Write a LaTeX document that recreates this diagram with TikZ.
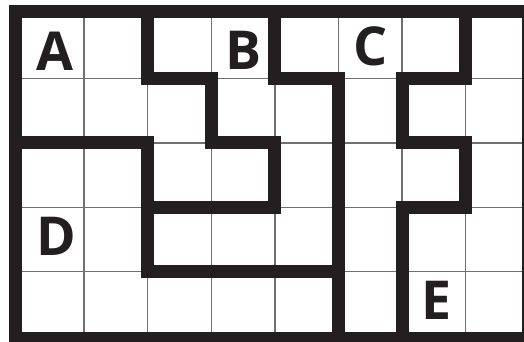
\documentclass[tikz,border=0pt]{standalone}
\usepackage{fontspec}
\setmainfont{Open Sans}
\usepackage{tikz}
\definecolor{ink}{HTML}{231F20}
\definecolor{gridgray}{HTML}{707070}

\begin{document}
\begin{tikzpicture}[
    x=1cm, y=-1.0126cm,
    cellline/.style={draw=gridgray, line width=0.022cm},
    wall/.style={draw=ink, line width=0.204cm, line cap=rect, line join=miter},
    letter/.style={font=\fontsize{24}{24}\selectfont\bfseries, text=ink, inner sep=0pt}
]
\useasboundingbox (-0.3223,-0.219) rectangle (7.9167,5.076);

% --- thin cell lines ---
\foreach \c in {1,...,7} {
    \draw[cellline] (\c,0) -- (\c,5);
}
\foreach \r in {1,...,4} {
    \draw[cellline] (0,\r) -- (8,\r);
}

% --- walls ---
\draw[wall] (2,0) -- (2,1) -- (3,1) -- (3,2) -- (4,2) -- (4,3) -- (2,3);
\draw[wall] (0,2) -- (2,2) -- (2,4) -- (5,4);
\draw[wall] (4,0) -- (4,1) -- (5,1) -- (5,5);
\draw[wall] (7,0) -- (7,1) -- (6,1) -- (6,2) -- (7,2) -- (7,3) -- (6,3) -- (6,5);

% --- outer border ---
\draw[wall] (-0.08,-0.04) rectangle (7.99,5.03);

% --- letters ---
\node[letter] (la) at (0.54,0.57) {A};
\node[letter] (lb) at (3.50,0.57) {B};
\node[letter] (lc) at (5.50,0.50) {C};
\node[letter] (ld) at (0.57,3.45) {D};
\node[letter] (le) at (6.54,4.44) {E};

\end{tikzpicture}
\end{document}
